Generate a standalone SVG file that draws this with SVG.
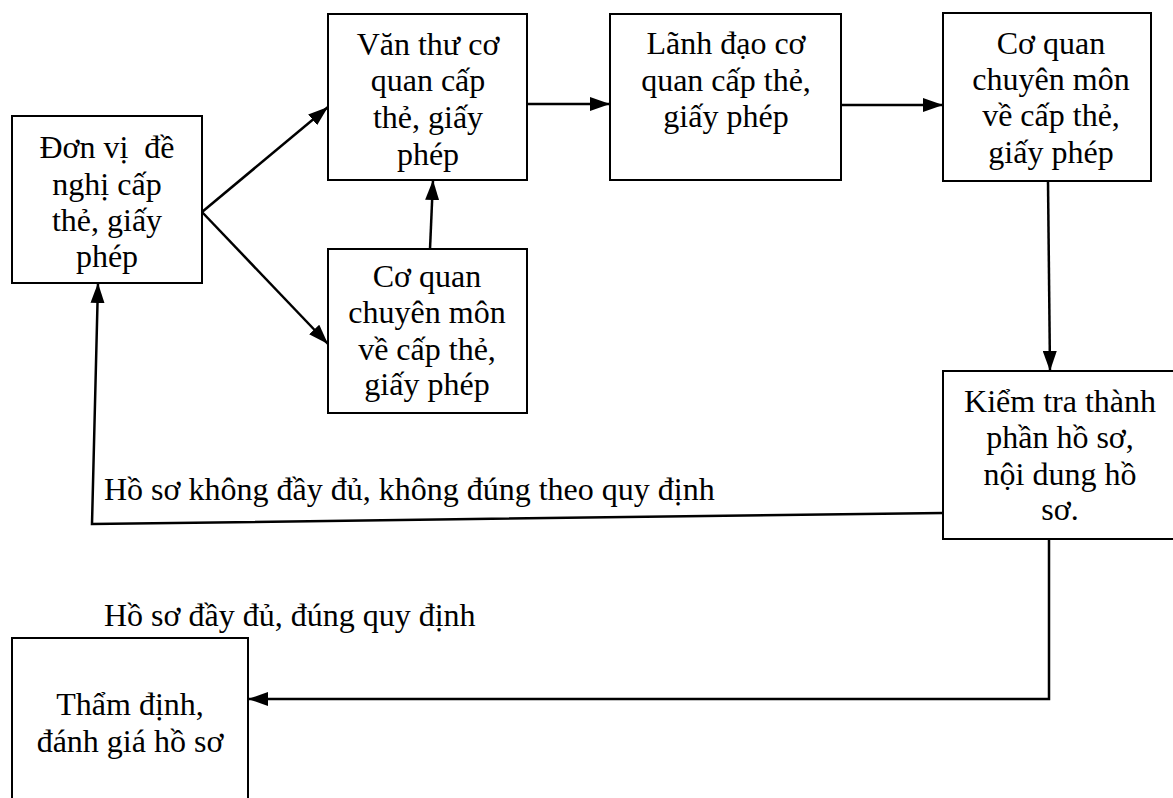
<svg xmlns="http://www.w3.org/2000/svg" width="1173" height="798" viewBox="0 0 1173 798">
<style>
.box{fill:#fff;stroke:#000;stroke-width:2}
.t{font-family:"Liberation Serif","Times New Roman",serif;font-size:32px;fill:#000;text-anchor:middle;white-space:pre}
.l{font-family:"Liberation Serif","Times New Roman",serif;font-size:32px;fill:#000}
.c{fill:none;stroke:#000;stroke-width:2.5}
</style>
<defs>
<marker id="ah" markerUnits="userSpaceOnUse" markerWidth="20" markerHeight="14" refX="20" refY="7" orient="auto">
<path d="M0,0 L20,7 L0,14 z" fill="#000"/>
</marker>
</defs>
<rect width="1173" height="798" fill="#fff"/>
<g id="connectors">
<line class="c" x1="202" y1="212" x2="328" y2="107" marker-end="url(#ah)"/>
<line class="c" x1="202" y1="212" x2="328" y2="344" marker-end="url(#ah)"/>
<line class="c" x1="430" y1="249" x2="433" y2="180" marker-end="url(#ah)"/>
<line class="c" x1="527" y1="104" x2="610" y2="104" marker-end="url(#ah)"/>
<line class="c" x1="841" y1="105" x2="943" y2="105" marker-end="url(#ah)"/>
<line class="c" x1="1048" y1="181" x2="1050" y2="371" marker-end="url(#ah)"/>
<polyline class="c" points="943,513 92,524 98,283" marker-end="url(#ah)"/>
<polyline class="c" points="1049,539 1049,699 248,699" marker-end="url(#ah)"/>
</g>
<g id="n1"><rect class="box" x="12" y="116" width="190" height="167"/>
<text class="t" x="107" y="158" xml:space="preserve">Đơn vị  đề</text><text class="t" x="107" y="195">nghị cấp</text><text class="t" x="107" y="231">thẻ, giấy</text><text class="t" x="107" y="267">phép</text></g>
<g id="n2"><rect class="box" x="328" y="14" width="199" height="166"/>
<text class="t" x="428" y="55">Văn thư cơ</text><text class="t" x="428" y="91">quan cấp</text><text class="t" x="428" y="128">thẻ, giấy</text><text class="t" x="428" y="165">phép</text></g>
<g id="n3"><rect class="box" x="610" y="14" width="231" height="166"/>
<text class="t" x="726" y="54">Lãnh đạo cơ</text><text class="t" x="726" y="91">quan cấp thẻ,</text><text class="t" x="726" y="127">giấy phép</text></g>
<g id="n4"><rect class="box" x="943" y="13" width="208" height="168"/>
<text class="t" x="1051" y="54">Cơ quan</text><text class="t" x="1051" y="90">chuyên môn</text><text class="t" x="1051" y="126">về cấp thẻ,</text><text class="t" x="1051" y="163">giấy phép</text></g>
<g id="n5"><rect class="box" x="328" y="249" width="199" height="164"/>
<text class="t" x="427" y="287">Cơ quan</text><text class="t" x="427" y="323">chuyên môn</text><text class="t" x="427" y="360">về cấp thẻ,</text><text class="t" x="427" y="395">giấy phép</text></g>
<g id="n6"><rect class="box" x="943" y="371" width="240" height="168"/>
<text class="t" x="1060" y="412">Kiểm tra thành</text><text class="t" x="1060" y="448">phần hồ sơ,</text><text class="t" x="1060" y="485">nội dung hồ</text><text class="t" x="1060" y="520">sơ.</text></g>
<g id="n7"><rect class="box" x="12" y="638" width="236" height="180"/>
<text class="t" x="130" y="715">Thẩm định,</text><text class="t" x="130" y="752">đánh giá hồ sơ</text></g>
<g id="labels">
<text class="l" x="104" y="500">Hồ sơ không đầy đủ, không đúng theo quy định</text>
<text class="l" x="104" y="626">Hồ sơ đầy đủ, đúng quy định</text>
</g>
</svg>
